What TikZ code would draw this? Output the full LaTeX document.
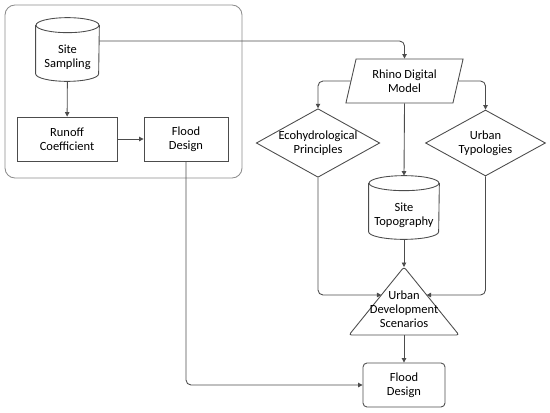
\documentclass[tikz,border=0pt]{standalone}
\usepackage{fontspec}
\setmainfont{Carlito}
\usetikzlibrary{shapes.geometric,arrows.meta}
% data store drawn round a body node
\newcommand{\dbshape}[2]{%
  \draw[dbline] ([yshift=0.15cm]#1.north west) -- ([yshift=0.15cm]#1.south west)
    arc[start angle=180, end angle=360, x radius=#2, y radius=0.15cm]
    -- ([yshift=0.15cm]#1.north east);
  \draw[dbline] ([yshift=0.15cm]#1.north) ellipse[x radius=#2, y radius=0.15cm];}
\begin{document}
\begin{tikzpicture}[x=0.02cm,y=-0.02cm,
  font=\fontsize{7.1}{8}\selectfont,
  box/.style={draw=black!70, line width=0.5pt, align=center, minimum height=0.88cm},
  dbody/.style={align=center, minimum height=0.96cm, inner sep=0pt},
  dbline/.style={draw=black!70, line width=0.5pt},
  decision/.style={diamond, aspect=1.8, draw=black!70, line width=0.5pt, align=center, minimum width=2.4cm, minimum height=1.32cm, inner sep=0pt},
  ioshape/.style={trapezium, trapezium left angle=77, trapezium right angle=103, draw=black!70, line width=0.5pt, align=center},
  link/.style={draw=black!70, line width=0.5pt, -{Triangle[length=0.9mm,width=0.9mm]}, rounded corners=0.1cm}]
\useasboundingbox (0,0) rectangle (550,412);

\draw[black!45, line width=0.5pt, rounded corners=0.2cm] (5,5) rectangle (242,178);

\node[dbody, minimum width=1.26cm] (ss) at (67.5,57) {Site\\Sampling};
\dbshape{ss}{0.63cm}
\node[box, minimum width=2.0cm] (ro) at (67,139) {Runoff\\Coefficient};
\node[box, minimum width=1.68cm] (fd1) at (186,139) {Flood\\Design};

\node[ioshape, minimum width=2.06cm, minimum height=0.88cm] (rh) at (404.5,81) {Rhino Digital\\Model};
\node[decision] (eco) at (318,143) {Ecohydrological\\Principles};
\node[decision] (ut) at (485.5,143) {Urban\\Typologies};
\node[dbody, minimum width=1.4cm] (topo) at (404,215) {Site\\Topography};
\dbshape{topo}{0.7cm}

\coordinate (uds top) at (404,267);
\coordinate (uds bl) at (349,335);
\coordinate (uds br) at (459,335);
\coordinate (uds b) at (404,335);
\coordinate (uds w) at (381.4,295);
\coordinate (uds e) at (426.6,295);
\draw[dbline, rounded corners=0.05cm] (uds top) -- (uds br) -- (uds bl) -- cycle;
\node[align=center, inner sep=0pt] (uds) at (404,309) {Urban\\Development\\Scenarios};
\node[box, rounded corners=0.08cm, minimum width=1.64cm] (fd2) at (404,385) {Flood\\Design};

\draw[link] (ss) -- (ro);
\draw[link] (ro) -- (fd1);
\draw[link] ([yshift=0.32cm]ss.east) -| (rh.north);
\draw[link] (rh.west) -| (eco.north);
\draw[link] (rh.east) -| (ut.north);
\draw[link] (rh.south) -- ([yshift=0.3cm]topo.north);
\draw[link] (topo.south) -- (uds top);
\draw[link] (eco.south) |- (uds w);
\draw[link] (ut.south) |- (uds e);
\draw[link] (uds b) -- (fd2.north);
\draw[link] (fd1.south) |- (fd2.west);
\end{tikzpicture}
\end{document}
